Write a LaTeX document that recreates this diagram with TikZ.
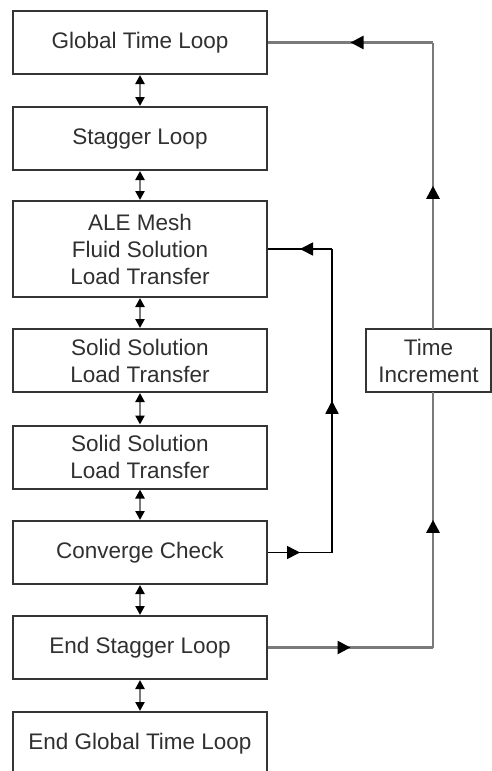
\documentclass[tikz,border=0pt]{standalone}
\usepackage{fontspec}
\setmainfont{Liberation Sans}
\usetikzlibrary{arrows.meta,decorations.markings}
\definecolor{boxline}{HTML}{353535}
\definecolor{txt}{HTML}{303030}
\definecolor{grayline}{HTML}{7A7A7A}
\tikzset{
  stepbox/.style={draw=boxline, line width=2pt, fill=white, minimum width=254pt,
    minimum height=63pt, inner sep=0pt, align=center, text=txt,
    font=\fontsize{22.5}{27}\selectfont},
  link/.style={draw=grayline, line width=2.4pt,
    {Triangle[length=9pt,width=9pt,color=black]}-{Triangle[length=9pt,width=9pt,color=black]}},
  outerline/.style={draw=grayline, line width=2.6pt},
  innerline/.style={draw=black, line width=1.6pt},
  midarrow/.style={postaction={decorate}, decoration={markings,
    mark=at position 0.5 with {\arrow[black]{Triangle[length=13pt,width=13pt]}}}},
}
\begin{document}
\begin{tikzpicture}[x=1pt,y=-1pt]
\useasboundingbox (0,0) rectangle (492,771);
\clip (0,0) rectangle (492,771);
\node[stepbox] (b1) at (140,42.5) {Global Time Loop};
\node[stepbox] (b2) at (140,138.5) {Stagger Loop};
\node[stepbox, minimum height=96pt] (b3) at (140,249) {ALE Mesh\\Fluid Solution\\Load Transfer};
\node[stepbox] (b4) at (140,360.5) {Solid Solution\\Load Transfer};
\node[stepbox] (b5) at (140,457) {Solid Solution\\Load Transfer};
\node[stepbox] (b6) at (140,552.5) {Converge Check};
\node[stepbox] (b7) at (140,647.5) {End Stagger Loop};
\node[stepbox] (b8) at (140,743.5) {End Global Time Loop};
\node[stepbox, minimum width=125pt, minimum height=63pt] (ti) at (428.5,360.5) {Time\\Increment};
% vertical double arrows
\draw[link] (b1.south) -- (b2.north);
\draw[link] (b2.south) -- (b3.north);
\draw[link] (b3.south) -- (b4.north);
\draw[link] (b4.south) -- (b5.north);
\draw[link] (b5.south) -- (b6.north);
\draw[link] (b6.south) -- (b7.north);
\draw[link] (b7.south) -- (b8.north);
% outer loop
\coordinate (ob) at (433,647.5);
\coordinate (ot) at (433,42.5);
\coordinate (tis) at (433,392);
\coordinate (tin) at (433,329);
\draw[outerline, midarrow] (b7.east) -- (ob);
\draw[outerline, midarrow] (ob) -- (tis);
\draw[outerline, midarrow] (tin) -- (ot);
\draw[outerline, midarrow] (ot) -- (b1.east);
% inner loop
\coordinate (ib) at (332,552.5);
\coordinate (it) at (332,249);
\draw[innerline, midarrow] (b6.east) -- (ib);
\draw[innerline, midarrow] (ib) -- (it);
\draw[innerline, midarrow] (it) -- (b3.east);
\end{tikzpicture}
\end{document}
